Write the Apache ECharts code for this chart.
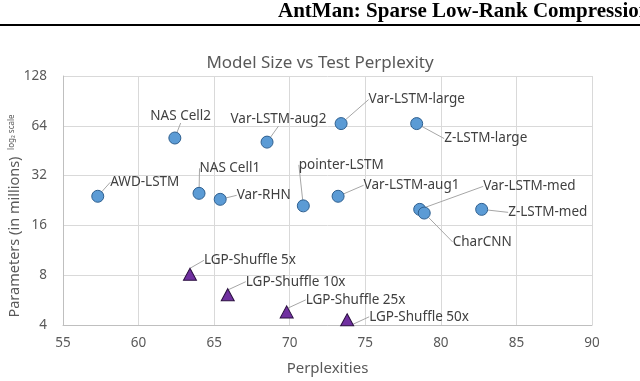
<!DOCTYPE html>
<html lang="en">
<head>
    <meta charset="UTF-8">
    <title>Model Size vs Test Perplexity</title>
</head>
<body style="margin:0;background:#fff">
<div id="container" style="width:640px;height:381px"></div>

<script type="text/javascript" src="https://cdn.jsdelivr.net/npm/echarts@6/dist/echarts.min.js"></script>
<script type="text/javascript">
    // models (blue circles)
    var models = ['AWD-LSTM', 'NAS Cell2', 'Var-LSTM-aug2', 'NAS Cell1', 'Var-RHN', 'pointer-LSTM',
        'Var-LSTM-aug1', 'Var-LSTM-large', 'Z-LSTM-large', 'Var-LSTM-med', 'CharCNN', 'Z-LSTM-med'];
    var modelPpl = [57.3, 62.4, 68.5, 64.0, 65.4, 70.9, 73.2, 73.4, 78.4, 78.6, 78.9, 82.7];
    var modelParams = [24, 54, 51, 25, 23, 21, 24, 66, 66, 20, 19, 20];

    // LGP-Shuffle (purple triangles)
    var lgpNames = ['LGP-Shuffle 5x', 'LGP-Shuffle 10x', 'LGP-Shuffle 25x', 'LGP-Shuffle 50x'];
    var lgpPpl = [63.4, 65.9, 69.8, 73.8];
    var lgpParams = [8.1, 6.1, 4.8, 4.3];

    var yTicks = [4, 8, 16, 32, 64, 128];

    // label shifts (px) for the leader lines
    var modelShift = [[6, -14], [-31, -22], [-43, -23], [-6, -25], [10, -4], [-11, -41],
        [19, -11], [21, -24], [21, 15], [57, -23], [22, 29], [20, 3]];
    var lgpShift = [[7, -14], [11, -13], [12, -12], [15, -3]];

    var font = 'Noto Sans';
    var textColor = '#404040';

    function toPoints(xs, ys, names) {
        return xs.map(function (x, i) { return [x, ys[i], names[i]]; });
    }

    var myChart = echarts.init(document.getElementById('container'));

    var labelCommon = {
        show: true,
        position: 'right',
        distance: 0,
        fontFamily: font,
        fontSize: 13.5,
        color: textColor,
        formatter: function (p) { return p.data[2]; }
    };
    var lineCommon = { show: true, lineStyle: { color: '#a6a6a6', width: 1 } };

    var option = {
        animation: false,
        textStyle: { fontFamily: font },
        title: {
            text: 'Model Size vs Test Perplexity',
            left: 'center',
            top: 50,
            textStyle: { fontFamily: font, fontSize: 17, fontWeight: 'normal', color: '#595959' }
        },
        grid: { left: 63, right: 48, top: 76, bottom: 53 },
        xAxis: {
            type: 'value',
            min: 55, max: 90, interval: 5,
            name: 'Perplexities',
            nameLocation: 'middle',
            nameGap: 36,
            nameTextStyle: { fontSize: 15, color: '#595959' },
            axisLine: { lineStyle: { color: '#bfbfbf' } },
            axisTick: { show: false },
            axisLabel: { fontSize: 13.5, color: '#595959', margin: 11 },
            splitLine: { lineStyle: { color: '#d9d9d9' } }
        },
        yAxis: {
            type: 'log',
            logBase: 2,
            min: 4, max: 128,
            axisLine: { show: true, lineStyle: { color: '#bfbfbf' } },
            axisTick: { show: false },
            axisLabel: {
                fontSize: 13.5, color: '#595959', margin: 16,
                formatter: function (v) { return yTicks.indexOf(Math.round(v)) >= 0 ? Math.round(v) : ''; }
            },
            splitLine: { lineStyle: { color: '#d9d9d9' } }
        },
        graphic: [
            {
                type: 'text', left: 278, top: 1,
                style: { text: 'AntMan: Sparse Low-Rank Compression to Accelerate RNN Inference',
                    font: 'bold 21px "Liberation Serif"', fill: '#000' }
            },
            {
                type: 'rect', left: 0, top: 24,
                shape: { width: 640, height: 2 }, style: { fill: '#000' }
            },
            {
                type: 'text', x: 15, y: 216, rotation: Math.PI / 2,
                style: {
                    text: '{a|Parameters (in millions)}  {b|log₂ scale}',
                    align: 'center', verticalAlign: 'middle',
                    rich: {
                        a: { fontFamily: font, fontSize: 14.5, fill: '#595959', color: '#595959' },
                        b: { fontFamily: font, fontSize: 8, fill: '#595959', color: '#595959', verticalAlign: 'top' }
                    }
                }
            }
        ],
        series: [
            {
                type: 'scatter',
                symbol: 'circle',
                symbolSize: 12,
                data: toPoints(modelPpl, modelParams, models),
                itemStyle: { color: '#5b9bd5', borderColor: '#2e5f8f', borderWidth: 1, opacity: 1 },
                label: labelCommon,
                labelLine: lineCommon,
                labelLayout: function (p) {
                    return { dx: modelShift[p.dataIndex][0], dy: modelShift[p.dataIndex][1] };
                }
            },
            {
                type: 'scatter',
                symbol: 'triangle',
                symbolSize: [13, 12],
                data: toPoints(lgpPpl, lgpParams, lgpNames),
                itemStyle: { color: '#7030a0', borderColor: '#2b1040', borderWidth: 1, opacity: 1 },
                label: labelCommon,
                labelLine: lineCommon,
                labelLayout: function (p) {
                    return { dx: lgpShift[p.dataIndex][0], dy: lgpShift[p.dataIndex][1] };
                }
            }
        ]
    };

    if (option && typeof option === 'object') {
        myChart.setOption(option);
    }
</script>
</body>
</html>
